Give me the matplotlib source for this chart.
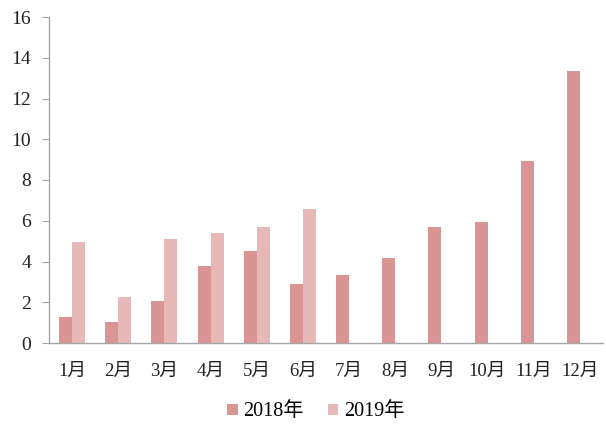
import numpy as np
import matplotlib
matplotlib.use('Agg')
from matplotlib import pyplot as plt

plt.rcParams['font.family'] = ['Liberation Serif', 'Noto Sans CJK SC']

# Dati mensili
months = ['1月', '2月', '3月', '4月', '5月', '6月', '7月', '8月', '9月', '10月', '11月', '12月']
y2018 = [1.3, 1.02, 2.05, 3.78, 4.5, 2.9, 3.34, 4.16, 5.69, 5.94, 8.92, 13.35]
y2019 = [4.96, 2.26, 5.1, 5.4, 5.69, 6.58]

c2018 = '#D99594'
c2019 = '#E6B9B8'
grey = '#A6A6A6'

fig = plt.figure(figsize=(6.06, 4.30), dpi=100)
ax = fig.add_axes([49/606, 1 - 343/430, 554/606, 326/430])

x = np.arange(len(months))
w = 0.28
ax.bar(x - w/2, y2018, w, color=c2018, label='2018年')
ax.bar(np.arange(len(y2019)) + w/2, y2019, w, color=c2019, label='2019年')

ax.set_xlim(-0.5, len(months) - 0.5)
ax.set_ylim(0, 16)
ax.set_yticks(np.arange(0, 17, 2))
ax.set_xticks(x)
ax.set_xticklabels(months)

for s in ['top', 'right']:
    ax.spines[s].set_visible(False)
for s in ['left', 'bottom']:
    ax.spines[s].set_color(grey)
    ax.spines[s].set_linewidth(1.0)
ax.tick_params(axis='y', direction='out', length=5, color=grey, labelsize=14, pad=8, labelcolor='#222222')
ax.tick_params(axis='x', length=0, labelsize=13.5, pad=14, labelcolor='#222222')

fig.legend(loc='center', bbox_to_anchor=(316/606, 1 - 412/430), ncol=2, frameon=False,
           fontsize=14.5, handlelength=0.5, handleheight=0.5, handletextpad=0.3, columnspacing=1.2)

fig.savefig('out.png', dpi=100)
